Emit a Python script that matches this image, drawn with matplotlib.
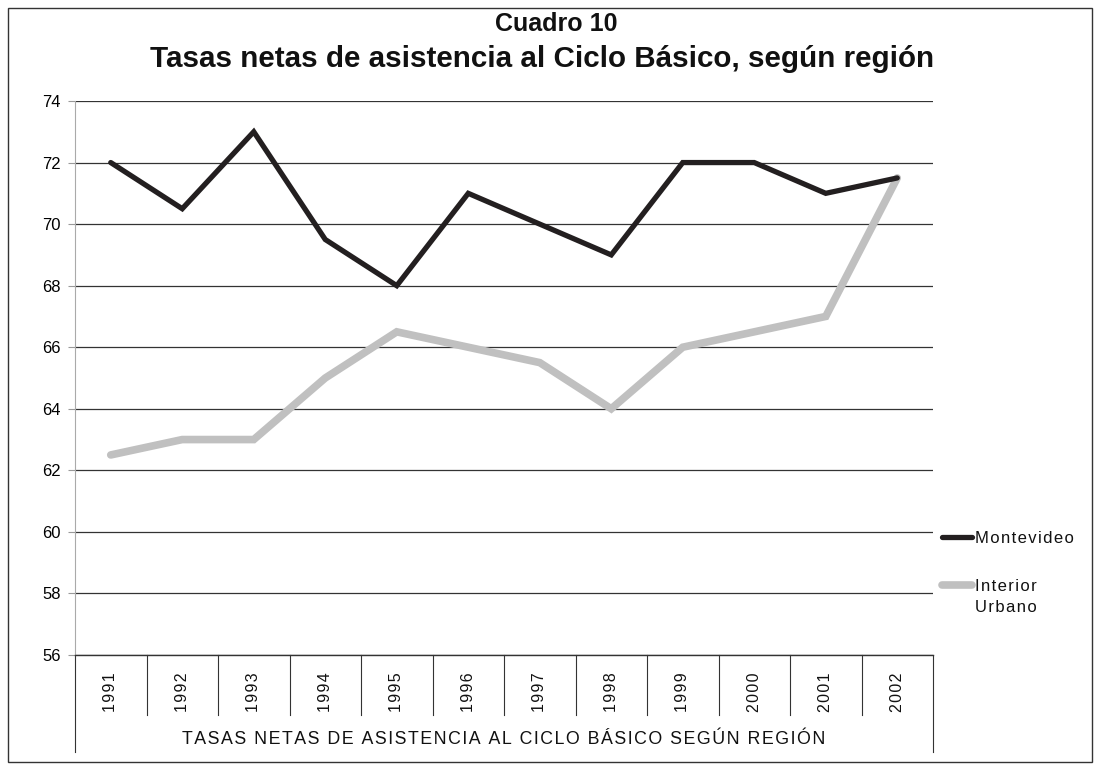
import matplotlib
matplotlib.use("Agg")
import matplotlib.pyplot as plt
from matplotlib.lines import Line2D
from matplotlib.patches import Rectangle

years = ["1991", "1992", "1993", "1994", "1995", "1996", "1997", "1998", "1999", "2000", "2001", "2002"]
montevideo = [72, 70.5, 73, 69.5, 68, 71, 70, 69, 72, 72, 71, 71.5]
interior = [62.5, 63, 63, 65, 66.5, 66, 65.5, 64, 66, 66.5, 67, 71.5]
series_names = ["Montevideo", "Interior\nUrbano"]
yticks = [56, 58, 60, 62, 64, 66, 68, 70, 72, 74]
title_lines = ["Cuadro 10", "Tasas netas de asistencia al Ciclo Básico, según región"]
xlabel = "TASAS NETAS DE ASISTENCIA AL CICLO BÁSICO SEGÚN REGIÓN"

plt.rcParams['font.family'] = ['Liberation Sans', 'DejaVu Sans']

HS = "\u200a"
def spaced(s):
    return "\n".join(HS.join(line) for line in s.split("\n"))

W, H = 1100, 770
fig = plt.figure(figsize=(W / 100, H / 100), dpi=100)
fig.patch.set_facecolor("white")

# outer border
fig.add_artist(Rectangle((8 / W, 1 - 762 / H), (1092 - 8) / W, (762 - 8) / H,
                         transform=fig.transFigure, fill=False, edgecolor="#333333", lw=1.0))

L, R, T, B = 75, 933, 101, 655
ax = fig.add_axes([L / W, 1 - B / H, (R - L) / W, (B - T) / H])
n = len(years)
x = [i + 0.5 for i in range(n)]
ax.set_xlim(0, n)
ax.set_ylim(56, 74)

ax.set_yticks(yticks)
ax.set_yticklabels([str(v) for v in yticks], fontsize=12)
ax.yaxis.grid(True, color="#333333", lw=0.9)
ax.set_axisbelow(True)
ax.tick_params(axis="y", length=5, color="#999999", pad=5)
ax.set_xticks([])
for s in ["top", "right"]:
    ax.spines[s].set_visible(False)
ax.spines["left"].set_color("#aaaaaa")
ax.spines["bottom"].set_color("#333333")
ax.spines["bottom"].set_linewidth(1.0)

ax.plot(x, interior, color="#c0c0c0", lw=5.5, solid_capstyle="round", solid_joinstyle="miter", zorder=3)
ax.plot(x, montevideo, color="#231f20", lw=3.8, solid_capstyle="round", solid_joinstyle="miter", zorder=4)

# multilevel category axis
hpx = B - T
def ay(ypix):
    return -(ypix - B) / hpx

for i in range(1, n):
    ax.add_line(Line2D([i / n, i / n], [0, ay(715)], transform=ax.transAxes,
                       color="#333333", lw=0.8, clip_on=False))
for xx in [0, 1]:
    ax.add_line(Line2D([xx, xx], [0, ay(752)], transform=ax.transAxes,
                       color="#333333", lw=0.8, clip_on=False))

for i, yr in enumerate(years):
    ax.text((i + 0.5) / n, ay(692), spaced(yr), transform=ax.transAxes,
            rotation=90, ha="center", va="center", fontsize=11.5, color="#111111")

ax.text(0.5, ay(740), spaced(xlabel), transform=ax.transAxes,
        ha="center", va="center", fontsize=12.8, color="#111111")

fig.text(556 / W, 1 - 24 / H, title_lines[0], ha="center", va="center", fontsize=18,
         fontweight="bold", color="#111111")
fig.text(542 / W, 1 - 59 / H, title_lines[1], ha="center", va="center", fontsize=21.3,
         fontweight="bold", color="#111111")

# legend
leg_colors = ["#231f20", "#c0c0c0"]
leg_lw = [3.8, 5.5]
leg_y = [537, 585]
for name, c, lw_, yy in zip(series_names, leg_colors, leg_lw, leg_y):
    fig.add_artist(Line2D([942 / W, 972 / W], [1 - yy / H, 1 - yy / H], transform=fig.transFigure,
                          color=c, lw=lw_, solid_capstyle="round"))
    fig.text(975 / W, 1 - (yy - 6) / H, spaced(name),
             ha="left", va="top", fontsize=12, color="#111111", linespacing=1.5)

fig.savefig("out.png", dpi=100)
